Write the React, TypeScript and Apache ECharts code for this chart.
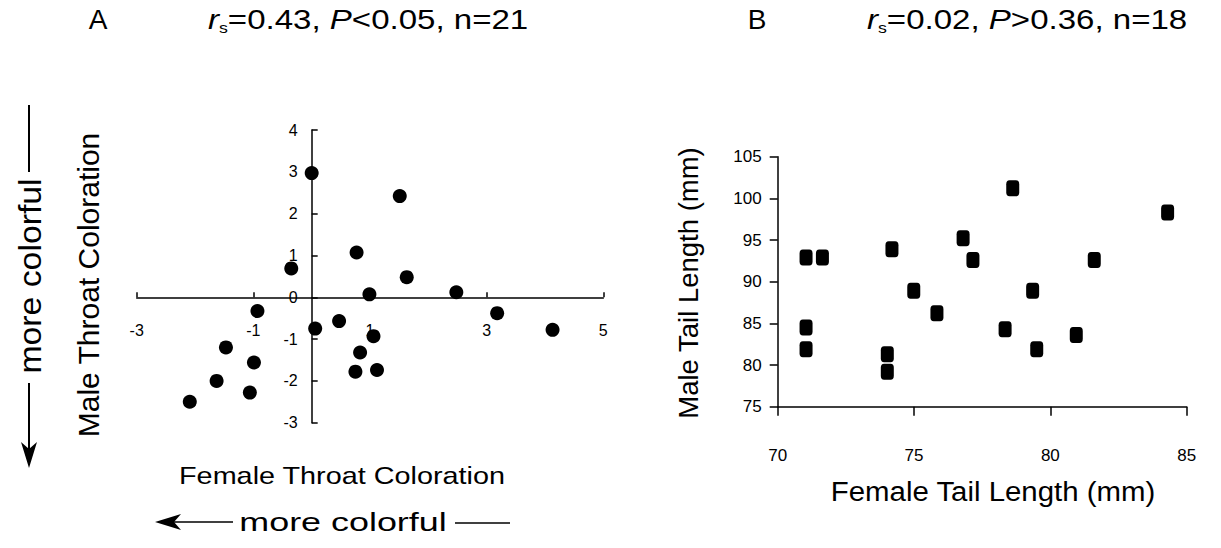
import React, { useEffect, useRef } from "react";
import * as echarts from "echarts";

// Panel A: female vs male throat coloration
const femaleThroat = [0, 1.51, 0.77, -0.35, 1.63, 2.48, 0.99, -0.93, 3.18, 0.47, 0.06, 4.13, 1.06, -1.47, 0.83, -0.99, 1.12, 0.75, -1.63, -1.06, -2.09];
const maleThroat = [2.97, 2.42, 1.07, 0.69, 0.48, 0.12, 0.07, -0.33, -0.38, -0.57, -0.75, -0.78, -0.93, -1.2, -1.32, -1.56, -1.74, -1.78, -2.0, -2.28, -2.5];

// Panel B: female vs male tail length (mm)
const femaleTail = [71.04, 71.64, 71.04, 71.04, 74.19, 74.02, 74.02, 74.99, 75.84, 76.8, 77.16, 78.62, 78.34, 79.35, 79.5, 80.95, 81.61, 84.3];
const maleTail = [92.9, 92.9, 84.5, 81.9, 93.9, 81.3, 79.2, 88.9, 86.2, 95.2, 92.6, 101.2, 84.3, 88.9, 81.9, 83.6, 92.6, 98.3];

const titleA = ["A", "r", "s", "=0.43, ", "P", "<0.05, n=21"];
const titleB = ["B", "r", "s", "=0.02, ", "P", ">0.36, n=18"];

const FONT = "'Liberation Sans', Arial, Helvetica, sans-serif";

export default function App() {
  const ref = useRef<HTMLDivElement>(null);
  useEffect(() => {
    if (!ref.current) return;
    const chart = echarts.init(ref.current, undefined, { renderer: "svg" });
    const black = "#000";
    const titleRich = {
      n: { fontSize: 28, fontFamily: FONT, color: black, lineHeight: 32 },
      i: { fontSize: 28, fontFamily: FONT, fontStyle: "italic", color: black, lineHeight: 32 },
      s: { fontSize: 15, fontFamily: FONT, color: black, lineHeight: 15, verticalAlign: "bottom" },
    };
    const richTitle = (t: string[]) => `{i|${t[1]}}{s|${t[2]}}{n|${t[3]}}{i|${t[4]}}{n|${t[5]}}`;
    const axisLine = { lineStyle: { color: black, width: 1.5 } };

    // grid A geometry; axes cross at (0,0)
    const gA = { left: 136.7, top: 130, width: 466.6, height: 292.7 };
    const xMinA = -3, xMaxA = 5, yMinA = -3, yMaxA = 4;
    const zeroOffsetX = -((0 - xMinA) / (xMaxA - xMinA)) * gA.width;
    const zeroOffsetY = -((0 - yMinA) / (yMaxA - yMinA)) * gA.height;

    const option: any = {
      animation: false,
      backgroundColor: "#fff",
      textStyle: { fontFamily: FONT, color: black },
      grid: [
        { ...gA, containLabel: false },
        { left: 777.7, top: 156.7, width: 409, height: 250, containLabel: false },
      ],
      xAxis: [
        {
          type: "value", gridIndex: 0, min: xMinA, max: xMaxA, interval: 2,
          position: "bottom", offset: zeroOffsetY,
          axisLine: { ...axisLine, onZero: false },
          axisTick: { show: true, inside: true, length: 5, lineStyle: { color: black, width: 1.5 } },
          axisLabel: { margin: 25, fontSize: 16, color: black, fontFamily: FONT },
          splitLine: { show: false },
        },
        {
          type: "value", gridIndex: 1, min: 70, max: 85, interval: 5,
          axisLine: { ...axisLine, onZero: false },
          axisTick: { show: true, inside: false, length: 9, lineStyle: { color: black, width: 1.5 } },
          axisLabel: { margin: 40, fontSize: 17, color: black, fontFamily: FONT },
          splitLine: { show: false },
        },
      ],
      yAxis: [
        {
          type: "value", gridIndex: 0, min: yMinA, max: yMaxA, interval: 1,
          position: "left", offset: zeroOffsetX,
          axisLine: { ...axisLine, onZero: false },
          axisTick: { show: true, inside: true, length: 6, lineStyle: { color: black, width: 1.5 } },
          axisLabel: { margin: 14, fontSize: 16, color: black, fontFamily: FONT },
          splitLine: { show: false },
        },
        {
          type: "value", gridIndex: 1, min: 75, max: 105, interval: 5,
          axisLine: { ...axisLine, onZero: false },
          axisTick: { show: true, inside: false, length: 8, lineStyle: { color: black, width: 1.5 } },
          axisLabel: { margin: 16, fontSize: 17, color: black, fontFamily: FONT },
          splitLine: { show: false },
        },
      ],
      series: [
        {
          type: "scatter", xAxisIndex: 0, yAxisIndex: 0,
          symbol: "circle", symbolSize: 14,
          itemStyle: { color: black, opacity: 1 },
          data: femaleThroat.map((x, i) => [x, maleThroat[i]]),
        },
        {
          type: "scatter", xAxisIndex: 1, yAxisIndex: 1,
          symbol: "roundRect", symbolSize: [13, 16],
          itemStyle: { color: black, opacity: 1 },
          data: femaleTail.map((x, i) => [x, maleTail[i]]),
        },
      ],
      graphic: [
        { type: "text", x: 98, y: 19, style: { text: titleA[0], fontSize: 28, fontFamily: FONT, fill: black, align: "center", verticalAlign: "middle" } },
        { type: "text", x: 208, y: 19, scaleX: 1.18, style: { text: richTitle(titleA), rich: titleRich, fill: black, align: "left", verticalAlign: "middle" } },
        { type: "text", x: 757, y: 19, style: { text: titleB[0], fontSize: 28, fontFamily: FONT, fill: black, align: "center", verticalAlign: "middle" } },
        { type: "text", x: 867, y: 19, scaleX: 1.18, style: { text: richTitle(titleB), rich: titleRich, fill: black, align: "left", verticalAlign: "middle" } },

        // Panel A axis titles
        { type: "text", x: 88, y: 285, rotation: Math.PI / 2, style: { text: "Male Throat Coloration", fontSize: 30, fontFamily: FONT, fill: black, align: "center", verticalAlign: "middle" } },
        { type: "text", x: 342, y: 476, scaleX: 1.2, style: { text: "Female Throat Coloration", fontSize: 24, fontFamily: FONT, fill: black, align: "center", verticalAlign: "middle" } },

        // vertical "more colorful" arrow
        { type: "text", x: 30, y: 276, rotation: Math.PI / 2, scaleX: 1.09, style: { text: "more colorful", fontSize: 31, fontFamily: FONT, fill: black, align: "center", verticalAlign: "middle" } },
        { type: "line", shape: { x1: 29, y1: 105, x2: 29, y2: 172 }, style: { stroke: black, lineWidth: 2 } },
        { type: "line", shape: { x1: 29, y1: 383, x2: 29, y2: 452 }, style: { stroke: black, lineWidth: 2 } },
        { type: "polygon", shape: { points: [[29, 468], [21, 442], [29, 449], [37, 442]] }, style: { fill: black } },

        // horizontal "more colorful" arrow
        { type: "text", x: 343, y: 522, scaleX: 1.38, style: { text: "more colorful", fontSize: 26, fontFamily: FONT, fill: black, align: "center", verticalAlign: "middle" } },
        { type: "line", shape: { x1: 165, y1: 522, x2: 233, y2: 522 }, style: { stroke: black, lineWidth: 1.5 } },
        { type: "polygon", shape: { points: [[155, 522], [181, 514], [174, 522], [181, 530]] }, style: { fill: black } },
        { type: "line", shape: { x1: 455, y1: 523, x2: 510, y2: 523 }, style: { stroke: black, lineWidth: 1.5 } },

        // Panel B axis titles
        { type: "text", x: 688, y: 283, rotation: Math.PI / 2, style: { text: "Male Tail Length (mm)", fontSize: 27.5, fontFamily: FONT, fill: black, align: "center", verticalAlign: "middle" } },
        { type: "text", x: 993, y: 491, scaleX: 1.05, style: { text: "Female Tail Length (mm)", fontSize: 28, fontFamily: FONT, fill: black, align: "center", verticalAlign: "middle" } },
      ],
    };
    chart.setOption(option);
    return () => chart.dispose();
  }, []);
  return <div ref={ref} style={{ position: "fixed", left: 0, top: 0, width: 1221, height: 548 }} />;
}
